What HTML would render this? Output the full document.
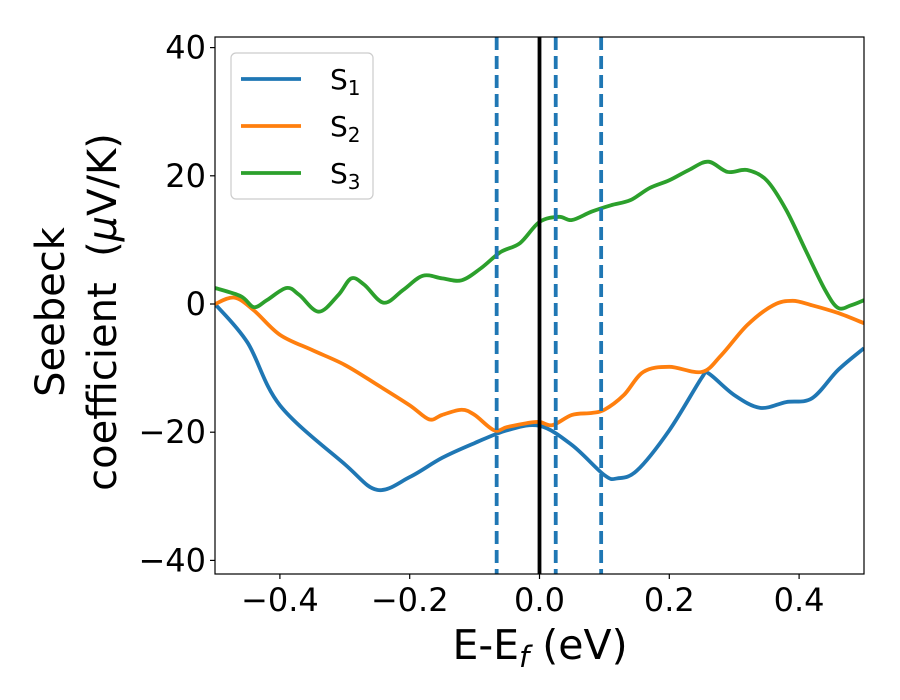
<!DOCTYPE html>
<html><head><meta charset="utf-8"><style>
body{margin:0;background:#fff;}
svg{display:block;font-family:"DejaVu Sans","Liberation Sans",sans-serif;}
</style></head><body>
<svg id="chart" width="900" height="700">
<rect width="900" height="700" fill="#fff"/>
<g id="marks"></g>
<g id="axes"></g>
</svg>
<script>
const s1x=[-0.5,-0.45,-0.4,-0.3,-0.25,-0.2,-0.15,-0.1,-0.05,0,0.05,0.1,0.12,0.15,0.2,0.25,0.26,0.3,0.34,0.38,0.42,0.46,0.5];
const s1y=[0,-6,-15.8,-25,-29,-27,-24,-21.7,-19.7,-19,-22,-26.7,-27.2,-26,-19.7,-11.5,-10.8,-14.2,-16.2,-15.3,-14.7,-10.3,-6.9];
const s2x=[-0.5,-0.47,-0.44,-0.4,-0.35,-0.3,-0.25,-0.2,-0.17,-0.15,-0.12,-0.1,-0.07,-0.05,-0.02,0,0.02,0.05,0.08,0.1,0.13,0.16,0.2,0.25,0.28,0.32,0.36,0.39,0.42,0.46,0.5];
const s2y=[0,1,-1,-4.8,-7.2,-9.5,-12.6,-15.8,-18,-17.3,-16.5,-17.3,-19.7,-19.2,-18.6,-18.4,-18.9,-17.3,-17,-16.5,-14.2,-10.6,-9.8,-10.6,-8,-3.3,-0.2,0.5,-0.2,-1.4,-3];
const s3x=[-0.5,-0.46,-0.44,-0.42,-0.39,-0.37,-0.34,-0.31,-0.29,-0.27,-0.24,-0.21,-0.18,-0.15,-0.12,-0.09,-0.06,-0.03,0,0.03,0.05,0.08,0.11,0.14,0.17,0.2,0.23,0.26,0.29,0.32,0.35,0.38,0.41,0.44,0.46,0.48,0.5];
const s3y=[2.5,1.2,-0.5,0.6,2.5,1.4,-1.2,1.4,4,3,0.2,2.2,4.4,4,3.7,5.6,8.1,9.5,12.8,13.6,13.1,14.4,15.4,16.2,18.1,19.3,20.9,22.2,20.6,20.9,19.3,14.7,8.4,2.2,-0.6,-0.2,0.6];
const dashedX=[-0.066,0.025,0.095];
const xTicks=[-0.4,-0.2,0.0,0.2,0.4];
const xTickLabels=["\u22120.4","\u22120.2","0.0","0.2","0.4"];
const yTicks=[-40,-20,0,20,40];
const yTickLabels=["\u221240","\u221220","0","20","40"];
const L=215,R=864,T=37,B=574;
const X=v=>L+(v+0.5)/1.0*(R-L);
const Y=v=>304-v*6.41;
const NS="http://www.w3.org/2000/svg";
function mk(tag,attrs,parent){const e=document.createElementNS(NS,tag);for(const k in attrs)e.setAttribute(k,attrs[k]);parent.appendChild(e);return e;}
const marks=document.getElementById('marks'),axes=document.getElementById('axes');
function pathFor(xs,ys){const p=xs.map((x,i)=>[X(x),Y(ys[i])]);let d="M"+p[0][0]+","+p[0][1];
for(let i=0;i<p.length-1;i++){const p0=p[Math.max(0,i-1)],p1=p[i],p2=p[i+1],p3=p[Math.min(p.length-1,i+2)];
d+=" C"+(p1[0]+(p2[0]-p0[0])/6)+","+(p1[1]+(p2[1]-p0[1])/6)+" "+(p2[0]-(p3[0]-p1[0])/6)+","+(p2[1]-(p3[1]-p1[1])/6)+" "+p2[0]+","+p2[1];}return d;}
const cp=mk('clipPath',{id:'clip'},marks);mk('rect',{x:L,y:T,width:R-L,height:B-T},cp);
const g=mk('g',{'clip-path':'url(#clip)'},marks);
const series=[[s1x,s1y,'#1f77b4','series-s1'],[s2x,s2y,'#ff7f0e','series-s2'],[s3x,s3y,'#2ca02c','series-s3']];
series.forEach(s=>{const e=mk('path',{d:pathFor(s[0],s[1]),fill:'none',stroke:s[2],'stroke-width':3.8},g);

});
dashedX.forEach(v=>{const e=mk('line',{x1:X(v),x2:X(v),y1:T,y2:B,stroke:'#1f77b4','stroke-width':3.8,'stroke-dasharray':'13,6'},g);

});
const fl=mk('line',{x1:X(0),x2:X(0),y1:T,y2:B,stroke:'#000','stroke-width':3.8},g);


const fr=mk('rect',{x:L,y:T,width:R-L,height:B-T,fill:'none',stroke:'#000','stroke-width':1.2},axes);


xTicks.forEach((v,i)=>{mk('line',{x1:X(v),x2:X(v),y1:B,y2:B+5,stroke:'#000','stroke-width':1.2},axes);
const t=mk('text',{x:X(v),y:B+37,'text-anchor':'middle','font-size':32},axes);t.textContent=xTickLabels[i];

});
yTicks.forEach((v,i)=>{mk('line',{x1:L-5,x2:L,y1:Y(v),y2:Y(v),stroke:'#000','stroke-width':1.2},axes);
const t=mk('text',{x:L-9,y:Y(v)+11,'text-anchor':'end','font-size':32},axes);t.textContent=yTickLabels[i];

});
</script>
<svg style="position:absolute;left:0;top:0" width="900" height="700" font-family="DejaVu Sans,Liberation Sans,sans-serif">
<text x="540" y="659" text-anchor="middle" font-size="41">E-E<tspan font-style="italic" font-size="29" dy="8">f</tspan><tspan dy="-8"> (eV)</tspan></text>
<g transform="translate(64,312) rotate(-90)" font-size="40">
<text x="0" y="0" text-anchor="middle">Seebeck</text>
<text x="0" y="52" text-anchor="middle">coefficient&#160;&#160;(<tspan font-style="italic">μ</tspan>V/K)</text>
</g>
<g font-size="28">
<rect x="231" y="53" width="142" height="146" rx="5" fill="#fff" stroke="#ccc" stroke-width="1.2"/>
<line x1="241" x2="301" y1="79" y2="79" stroke="#1f77b4" stroke-width="3.8"/>
<text x="330" y="89">S<tspan font-size="20" dy="6">1</tspan></text>
<line x1="241" x2="301" y1="126" y2="126" stroke="#ff7f0e" stroke-width="3.8"/>
<text x="330" y="136">S<tspan font-size="20" dy="6">2</tspan></text>
<line x1="241" x2="301" y1="173" y2="173" stroke="#2ca02c" stroke-width="3.8"/>
<text x="330" y="183">S<tspan font-size="20" dy="6">3</tspan></text>
</g>
</svg>
</body></html>
